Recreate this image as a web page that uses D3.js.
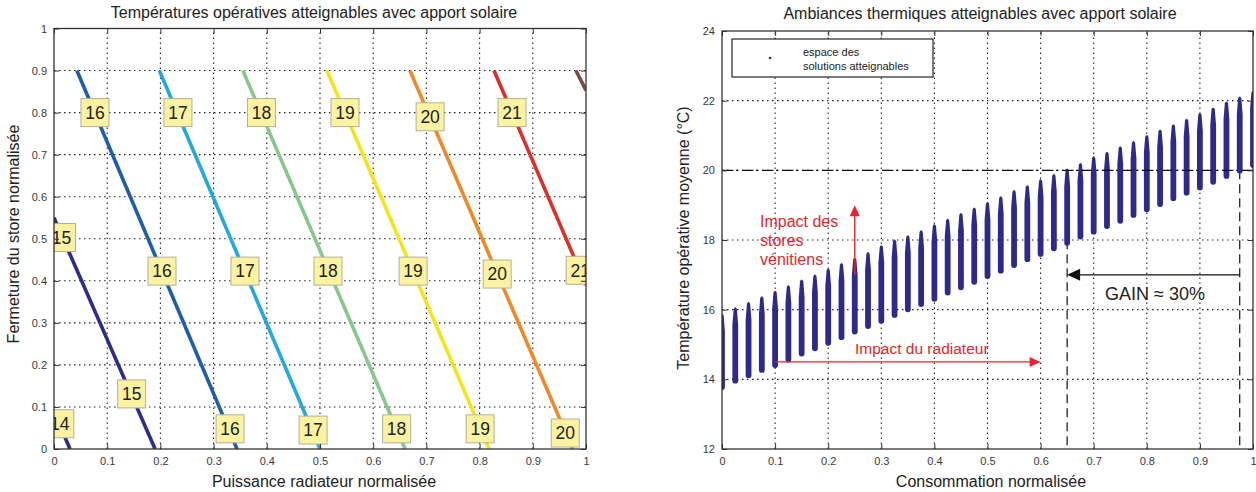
<!DOCTYPE html>
<html><head><meta charset="utf-8">
<script src="https://cdn.jsdelivr.net/npm/d3@7"></script>
<style>
html,body{margin:0;padding:0;background:#fff;}
text{font-family:"Liberation Sans",Arial,sans-serif;}
</style></head>
<body>
<script>
// ---------- DATA ----------
// Left chart: iso-temperature lines (endpoints in data units)
const isoTemps = [14, 15, 16, 17, 18, 19, 20, 21, 22];
const isoX0 = [0.000, 0.000, 0.043, 0.198, 0.355, 0.513, 0.669, 0.827, 0.981];
const isoY0 = [0.090, 0.550, 0.900, 0.900, 0.900, 0.900, 0.900, 0.900, 0.900];
const isoX1 = [0.030, 0.190, 0.344, 0.500, 0.660, 0.818, 0.975, 1.000, 1.000];
const isoY1 = [0.000, 0.000, 0.000, 0.000, 0.000, 0.000, 0.000, 0.390, 0.853];
// Left chart: contour labels
const labelText = ["16","17","18","19","20","21","15","16","17","18","19","20","21","15","14","16","17","18","19","20"];
const labelX    = [0.077,0.233,0.390,0.547,0.707,0.861,0.014,0.203,0.359,0.515,0.675,0.833,0.989,0.146,0.011,0.331,0.487,0.644,0.801,0.961];
const labelY    = [0.800,0.800,0.800,0.800,0.790,0.800,0.503,0.423,0.423,0.423,0.423,0.416,0.425,0.131,0.060,0.048,0.045,0.048,0.048,0.038];
const leftTicks = [0,0.1,0.2,0.3,0.4,0.5,0.6,0.7,0.8,0.9,1];

// Right chart: reachable operative temperature ranges per normalised consumption
const consumption = [0,0.025,0.05,0.075,0.1,0.125,0.15,0.175,0.2,0.225,0.25,0.275,0.3,0.325,0.35,0.375,0.4,0.425,0.45,0.475,0.5,0.525,0.55,0.575,0.6,0.625,0.65,0.675,0.7,0.725,0.75,0.775,0.8,0.825,0.85,0.875,0.9,0.925,0.95,0.975,1];
const tMin = [13.78,13.96,14.12,14.27,14.41,14.57,14.74,14.89,15.05,15.21,15.37,15.53,15.68,15.85,16.01,16.16,16.31,16.49,16.64,16.8,16.97,17.12,17.28,17.45,17.6,17.76,17.92,18.1,18.24,18.4,18.55,18.72,18.88,19.03,19.2,19.36,19.51,19.67,19.84,19.99,20.15];
const tMax = [15.9,16.08,16.23,16.39,16.55,16.71,16.87,17.02,17.19,17.35,17.5,17.66,17.86,18.02,18.14,18.29,18.46,18.62,18.78,18.94,19.1,19.26,19.44,19.58,19.75,19.9,20.06,20.22,20.41,20.54,20.7,20.85,21.02,21.18,21.33,21.49,21.65,21.81,21.98,22.13,22.29];
const rightXTicks = [0,0.1,0.2,0.3,0.4,0.5,0.6,0.7,0.8,0.9,1];
const rightYTicks = [12,14,16,18,20,22,24];
// Annotations (data units)
const setpoint = 20;
const gainFrom = 0.975, gainTo = 0.65, gainLevel = 17;
const storesArrowX = 0.25, storesArrowFrom = 17, storesArrowTo = 19;
const radArrowY = 14.5, radArrowFrom = 0.1, radArrowTo = 0.6;

// ---------- STYLE ----------
const isoColors = ["#2d2a7f","#2e2d88","#1f5ea6","#25a8de","#88c78c","#f4e41c","#ec8a2c","#d8302a","#7b4b3c"];
const RED = "#e4262c", NAVY = "#2e2a88";

const svg = d3.select("body").append("svg").attr("width",1256).attr("height",492);
const defs = svg.append("defs");

function frame(g, x, y, xt, yt) {
  const [xa, xb] = x.range(), [ya, yb] = y.range();
  g.append("g").selectAll("line").data(xt.slice(1, -1)).join("line")
    .attr("x1", d => x(d)).attr("x2", d => x(d)).attr("y1", ya).attr("y2", yb)
    .attr("stroke", "#222").attr("stroke-width", 1.1).attr("stroke-dasharray", "1.5,3.5");
  g.append("g").selectAll("line").data(yt.slice(1, -1)).join("line")
    .attr("y1", d => y(d)).attr("y2", d => y(d)).attr("x1", xa).attr("x2", xb)
    .attr("stroke", "#222").attr("stroke-width", 1.1).attr("stroke-dasharray", "1.5,3.5");
}
function axesOn(g, x, y, xt, yt) {
  const [xa, xb] = x.range(), [ya, yb] = y.range();
  const bx = g.append("g").attr("transform", `translate(0,${ya})`)
    .call(d3.axisBottom(x).tickValues(xt).tickSize(-5).tickPadding(8).tickFormat(d => String(d)));
  const tx = g.append("g").attr("transform", `translate(0,${yb})`)
    .call(d3.axisTop(x).tickValues(xt).tickSize(-5).tickFormat(""));
  const ly = g.append("g").attr("transform", `translate(${xa},0)`)
    .call(d3.axisLeft(y).tickValues(yt).tickSize(-5).tickPadding(7).tickFormat(d => String(d)));
  const ry = g.append("g").attr("transform", `translate(${xb},0)`)
    .call(d3.axisRight(y).tickValues(yt).tickSize(-5).tickFormat(""));
  [bx, tx, ly, ry].forEach(a => {
    a.select(".domain").remove();
    a.selectAll(".tick line").attr("stroke", "#333").attr("stroke-width", 1);
    a.selectAll(".tick text").attr("fill", "#3a3a3a").attr("font-size", 11)
      .attr("font-family", "Liberation Sans, Arial, sans-serif");
  });
  g.append("rect").attr("x", xa).attr("y", yb).attr("width", xb - xa).attr("height", ya - yb)
    .attr("fill", "none").attr("stroke", "#333").attr("stroke-width", 1.3);
}

// ================= LEFT CHART =================
const xL = d3.scaleLinear([0, 1], [54, 586]);
const yL = d3.scaleLinear([0, 1], [449, 28.5]);
const gL = svg.append("g");
defs.append("clipPath").attr("id", "clipL").append("rect")
  .attr("x", 54).attr("y", 28.5).attr("width", 532).attr("height", 420.5);
frame(gL, xL, yL, leftTicks, leftTicks);
const linesL = gL.append("g").attr("clip-path", "url(#clipL)");
linesL.selectAll("line").data(isoTemps).join("line")
  .attr("x1", (d, i) => xL(isoX0[i])).attr("y1", (d, i) => yL(isoY0[i]))
  .attr("x2", (d, i) => xL(isoX1[i])).attr("y2", (d, i) => yL(isoY1[i]))
  .attr("stroke", (d, i) => isoColors[i]).attr("stroke-width", 3.6);
const lab = linesL.selectAll("g.lab").data(labelText).join("g").attr("class", "lab")
  .attr("transform", (d, i) => `translate(${xL(labelX[i])},${yL(labelY[i])})`);
lab.append("rect").attr("x", -14).attr("y", -14).attr("width", 28).attr("height", 28)
  .attr("fill", "#fbf3a2").attr("stroke", "#b3b09a").attr("stroke-width", 1);
lab.append("text").text(d => d).attr("text-anchor", "middle").attr("dy", "0.36em")
  .attr("font-size", 17.5).attr("fill", "#222");
axesOn(gL, xL, yL, leftTicks, leftTicks);
gL.append("text").attr("x", 314).attr("y", 18).attr("text-anchor", "middle")
  .attr("font-size", 16).attr("fill", "#222").text("Températures opératives atteignables avec apport solaire");
gL.append("text").attr("x", 324).attr("y", 487).attr("text-anchor", "middle")
  .attr("font-size", 16).attr("fill", "#222").text("Puissance radiateur normalisée");
gL.append("text").attr("transform", "translate(19,234) rotate(-90)").attr("text-anchor", "middle")
  .attr("font-size", 16).attr("fill", "#222").text("Fermeture du store normalisée");

// ================= RIGHT CHART =================
const xR = d3.scaleLinear([0, 1], [722, 1253]);
const yR = d3.scaleLinear([12, 24], [449, 31]);
const gR = svg.append("g");
defs.append("clipPath").attr("id", "clipR").append("rect")
  .attr("x", 722).attr("y", 31).attr("width", 531).attr("height", 418);
frame(gR, xR, yR, rightXTicks, rightYTicks);
const plotR = gR.append("g").attr("clip-path", "url(#clipR)");
[gainTo, gainFrom].forEach(v => {
  plotR.append("line").attr("x1", xR(v)).attr("x2", xR(v)).attr("y1", yR(setpoint)).attr("y2", yR(12))
    .attr("stroke", "#111").attr("stroke-width", 1.2).attr("stroke-dasharray", "9,5");
});
// columns of reachable solutions (tapered toward the top)
function colPath(cx, yb, yt) {
  const w = 2.9, wt = 1.6, taper = Math.min(18, (yb - yt) * 0.3);
  return `M${cx - w},${yb} L${cx - w},${yt + taper} L${cx - wt},${yt + 2} Q${cx},${yt - 1.5} ${cx + wt},${yt + 2}` +
         ` L${cx + w},${yt + taper} L${cx + w},${yb} A${w},${w} 0 0 1 ${cx - w},${yb} Z`;
}
plotR.append("g").selectAll("path").data(consumption).join("path")
  .attr("d", (d, i) => colPath(xR(d), yR(tMin[i]), yR(tMax[i])))
  .attr("fill", NAVY);
plotR.append("line").attr("x1", xR(0)).attr("x2", xR(1)).attr("y1", yR(setpoint)).attr("y2", yR(setpoint))
  .attr("stroke", "#111").attr("stroke-width", 1.3).attr("stroke-dasharray", "10,4,2,4");
const gy = yR(gainLevel);
plotR.append("line").attr("x1", xR(gainFrom)).attr("x2", xR(gainTo) + 10).attr("y1", gy).attr("y2", gy)
  .attr("stroke", "#111").attr("stroke-width", 1.3);
plotR.append("path").attr("d", `M${xR(gainTo)},${gy} l13,-6 l0,12 z`).attr("fill", "#111");
plotR.append("text").attr("x", 1105).attr("y", gy + 25).attr("font-size", 18).attr("fill", "#222")
  .text("GAIN ≈ 30%");
const sx = xR(storesArrowX);
plotR.append("line").attr("x1", sx).attr("x2", sx).attr("y1", yR(storesArrowFrom)).attr("y2", yR(storesArrowTo) + 9)
  .attr("stroke", RED).attr("stroke-width", 1.4);
plotR.append("path").attr("d", `M${sx},${yR(storesArrowTo)} l-5,11 l10,0 z`).attr("fill", RED);
const ry = yR(radArrowY);
plotR.append("line").attr("x1", xR(radArrowFrom)).attr("x2", xR(radArrowTo) - 9).attr("y1", ry).attr("y2", ry)
  .attr("stroke", RED).attr("stroke-width", 1.4);
plotR.append("path").attr("d", `M${xR(radArrowTo)},${ry} l-11,-5 l0,10 z`).attr("fill", RED);
const st = plotR.append("text").attr("x", 760).attr("font-size", 16).attr("fill", RED);
["Impact des", "stores", "vénitiens"].forEach((t, i) =>
  st.append("tspan").attr("x", 760).attr("y", 227 + i * 19).text(t));
plotR.append("text").attr("x", 855).attr("y", 354).attr("font-size", 15.5).attr("fill", RED)
  .text("Impact du radiateur");
const lg = gR.append("g");
lg.append("rect").attr("x", 732).attr("y", 39).attr("width", 201).attr("height", 38)
  .attr("fill", "#fff").attr("stroke", "#111").attr("stroke-width", 1.1);
lg.append("circle").attr("cx", 770).attr("cy", 58).attr("r", 1.3).attr("fill", NAVY);
lg.append("text").attr("x", 803).attr("y", 56).attr("font-size", 11).attr("fill", "#222").text("espace des");
lg.append("text").attr("x", 803).attr("y", 70).attr("font-size", 11).attr("fill", "#222").text("solutions atteignables");
axesOn(gR, xR, yR, rightXTicks, rightYTicks);
gR.append("text").attr("x", 980).attr("y", 19).attr("text-anchor", "middle")
  .attr("font-size", 16).attr("fill", "#222").text("Ambiances thermiques atteignables avec apport solaire");
gR.append("text").attr("x", 991).attr("y", 487).attr("text-anchor", "middle")
  .attr("font-size", 16).attr("fill", "#222").text("Consommation normalisée");
gR.append("text").attr("transform", "translate(689,238) rotate(-90)").attr("text-anchor", "middle")
  .attr("font-size", 16).attr("fill", "#222").text("Température opérative moyenne (°C)");
</script>
</body></html>
